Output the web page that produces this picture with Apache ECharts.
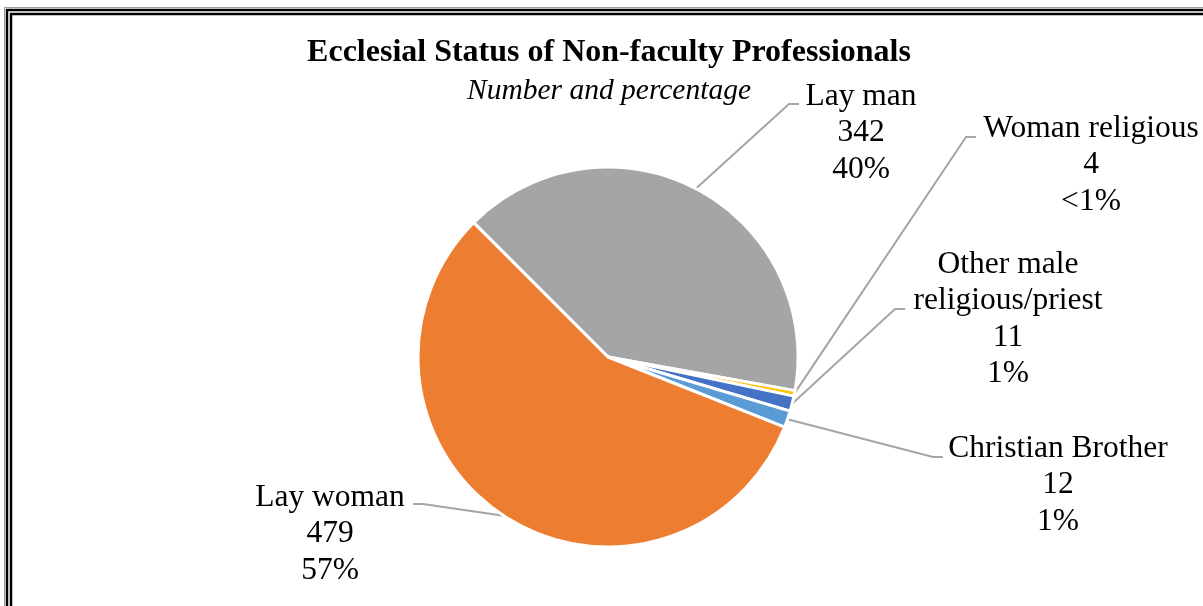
<!DOCTYPE html>
<html>
<head>
<meta charset="utf-8">
<script src="https://cdn.jsdelivr.net/npm/echarts@6/dist/echarts.min.js"></script>
<style>html,body{margin:0;padding:0;background:#fff;}#chart{width:1203px;height:606px;}</style>
</head>
<body>
<div id="chart"></div>
<script>
// ---- data ----
var categories = ['Lay man', 'Woman religious', 'Other male\nreligious/priest', 'Christian Brother', 'Lay woman'];
var counts = [342, 4, 11, 12, 479];
var pctLabels = ['40%', '<1%', '1%', '1%', '57%'];
var colors = ['#A5A5A5', '#FFC000', '#4472C4', '#5B9BD5', '#ED7D31'];
var titleText = 'Ecclesial Status of Non-faculty Professionals';
var subtitleText = 'Number and percentage';

// ---- label layout (label anchor, bend point, end point) ----
var labelLayoutSpec = [
  { x: 861, y: 133, bend: [789, 104], end: [799, 104] },
  { x: 1091, y: 165, bend: [966, 137], end: [976, 137] },
  { x: 1008, y: 319, bend: [895, 309], end: [905, 309] },
  { x: 1058, y: 485, bend: [933, 457], end: [943, 457] },
  { x: 330, y: 534, bend: [423, 504], end: [413, 504] }
];

var chart = echarts.init(document.getElementById('chart'), null, { renderer: 'canvas' });
var data = categories.map(function (c, i) {
  return { name: c, value: counts[i], itemStyle: { color: colors[i] } };
});
var serif = 'Liberation Serif';
chart.setOption({
  animation: false,
  backgroundColor: '#fff',
  title: [
    { text: titleText, left: 604, textAlign: 'center', top: 32,
      textStyle: { fontFamily: serif, fontWeight: 'bold', fontSize: 32, color: '#000' } },
    { text: subtitleText, left: 604, textAlign: 'center', top: 71,
      textStyle: { fontFamily: serif, fontStyle: 'italic', fontWeight: 'normal', fontSize: 29.5, color: '#000' } }
  ],
  graphic: [
    { type: 'rect', shape: { x: 4.5, y: 7.5, width: 1400, height: 900 }, style: { fill: null, stroke: '#9a9a9a', lineWidth: 1 }, silent: true },
    { type: 'rect', shape: { x: 7, y: 10, width: 1400, height: 900 }, style: { fill: null, stroke: '#000', lineWidth: 2.5 }, silent: true },
    { type: 'rect', shape: { x: 11, y: 14, width: 1400, height: 900 }, style: { fill: null, stroke: '#000', lineWidth: 2.5 }, silent: true }
  ],
  series: [{
    type: 'pie',
    center: [608, 357],
    radius: 190,
    startAngle: 135,
    clockwise: true,
    data: data,
    itemStyle: { borderColor: '#fff', borderWidth: 3 },
    label: {
      show: true,
      formatter: function (p) { return p.name + '\n' + p.value + '\n' + pctLabels[p.dataIndex]; },
      fontFamily: serif,
      fontSize: 31.5,
      lineHeight: 36.5,
      color: '#000',
      align: 'center'
    },
    labelLine: { show: true, lineStyle: { color: '#A5A5A5', width: 2 } },
    labelLayout: function (params) {
      var s = labelLayoutSpec[params.dataIndex];
      var first = params.labelLinePoints ? params.labelLinePoints[0] : s.bend;
      return {
        x: s.x, y: s.y, align: 'center', verticalAlign: 'middle',
        labelLinePoints: [first, s.bend, s.end]
      };
    },
    emphasis: { disabled: true }
  }]
});
</script>
</body>
</html>
